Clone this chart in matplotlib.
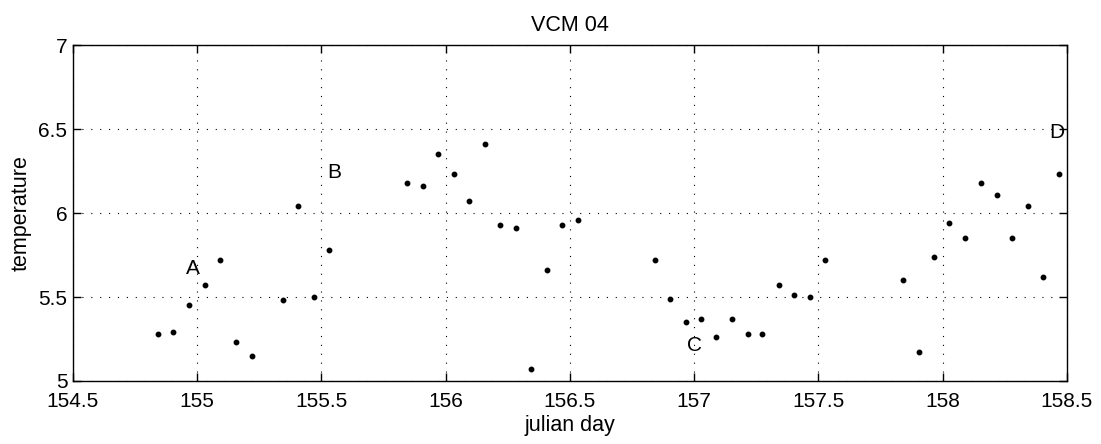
import matplotlib
matplotlib.use("Agg")
import matplotlib.pyplot as plt
from matplotlib.ticker import FuncFormatter

plt.rcParams['font.family'] = ['Liberation Sans', 'DejaVu Sans']

julian_day = [154.843, 154.904, 154.968, 155.030, 155.092, 155.156, 155.219,
              155.344, 155.407, 155.469, 155.531,
              155.845, 155.907, 155.969, 156.032, 156.095, 156.158, 156.220,
              156.281, 156.343, 156.406, 156.468, 156.531,
              156.841, 156.904, 156.967, 157.027, 157.089, 157.151, 157.215,
              157.275, 157.340, 157.401, 157.465, 157.526,
              157.840, 157.903, 157.965, 158.026, 158.091, 158.155, 158.217,
              158.279, 158.342, 158.403, 158.467]
temperature = [5.28, 5.29, 5.45, 5.57, 5.72, 5.23, 5.15,
               5.48, 6.04, 5.50, 5.78,
               6.18, 6.16, 6.35, 6.23, 6.07, 6.41, 5.93,
               5.91, 5.07, 5.66, 5.93, 5.96,
               5.72, 5.49, 5.35, 5.37, 5.26, 5.37, 5.28,
               5.28, 5.57, 5.51, 5.50, 5.72,
               5.60, 5.17, 5.74, 5.94, 5.85, 6.18, 6.11,
               5.85, 6.04, 5.62, 6.23]

label_text = ['A', 'B', 'C', 'D']
label_x = [154.984, 155.552, 157.0, 158.458]
label_y = [5.67, 6.24, 5.21, 6.48]

x_ticks = [154.5, 155, 155.5, 156, 156.5, 157, 157.5, 158, 158.5]
y_ticks = [5, 5.5, 6, 6.5, 7]

fig = plt.figure(figsize=(11.01, 4.44), dpi=100)
ax = fig.add_axes([0.0663, 0.1419, 0.9027, 0.7567])

ax.plot(julian_day, temperature, linestyle='none', marker='o',
        markersize=3.2, color='black')
for t, x, y in zip(label_text, label_x, label_y):
    ax.text(x, y, t, fontsize=15, ha='center', va='center')

ax.set_xlim(154.5, 158.5)
ax.set_ylim(5, 7)
ax.set_xticks(x_ticks)
ax.set_yticks(y_ticks)
fmt = FuncFormatter(lambda v, p: ('%g' % v))
ax.xaxis.set_major_formatter(fmt)
ax.yaxis.set_major_formatter(fmt)
ax.tick_params(direction='in', length=6, width=1, labelsize=15,
               top=True, right=True)
ax.tick_params(axis='x', pad=8)
ax.tick_params(axis='y', pad=4)
ax.grid(True, color='black', linestyle=(0, (1, 7)), linewidth=0.8)
for s in ax.spines.values():
    s.set_linewidth(1.0)

ax.set_title('VCM 04', fontsize=15.5, pad=10)
ax.set_xlabel('julian day', fontsize=15.5, labelpad=3)
ax.set_ylabel('temperature', fontsize=15.5, labelpad=5)

fig.savefig('out.png', dpi=100)
